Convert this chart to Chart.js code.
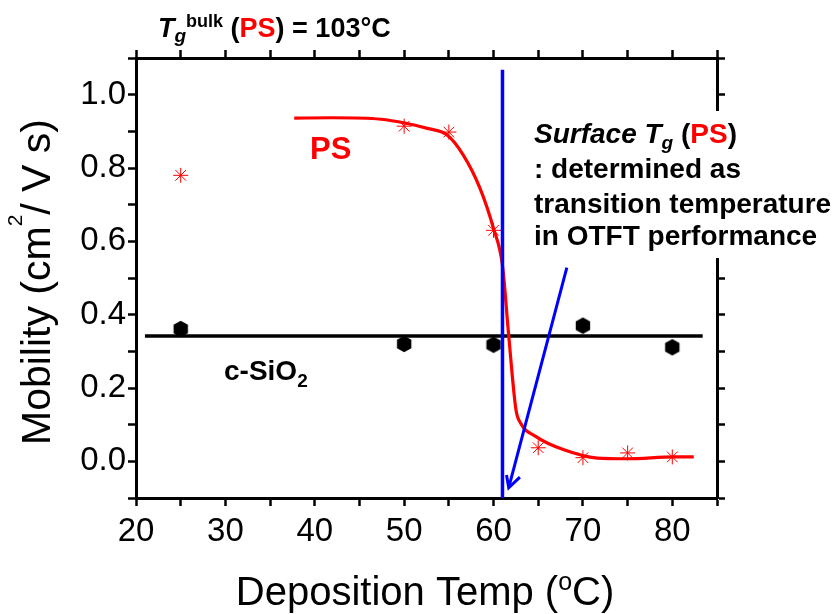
<!DOCTYPE html>
<html><head><meta charset="utf-8">
<script src="https://cdn.jsdelivr.net/npm/chart.js@4"></script>
<style>html,body{margin:0;padding:0;background:#fff}#wrap{width:840px;height:614px;position:relative}</style>
</head><body><div id="wrap"><canvas id="c"></canvas></div>
<script>
const FONT = '"Liberation Sans", Arial, Helvetica, sans-serif';

// ---- data ----
const psTemp = [25, 50, 55, 60, 65, 70, 75, 80];
const psMobility = [0.78, 0.914, 0.898, 0.63, 0.037, 0.01, 0.023, 0.012];
const sio2Temp = [25, 50, 60, 70, 80];
const sio2Mobility = [0.361, 0.32, 0.318, 0.37, 0.311];
const psFitTemp = [37.7, 42, 47.4, 50.2, 52.6, 54.8, 56.6, 58.5, 60.0, 61.0, 61.7, 62.5, 63.0, 64.7, 67.8, 71.6, 75, 80.2, 82.4];
const psFitMobility = [0.936, 0.937, 0.933, 0.922, 0.908, 0.890, 0.836, 0.744, 0.635, 0.534, 0.342, 0.142, 0.105, 0.068, 0.032, 0.009, 0.007, 0.012, 0.012];
const sio2LineTemp = [21.0, 83.4];
const sio2LineMobility = [0.342, 0.342];
const surfaceTgTemp = [61.0, 61.0];
const surfaceTgMobility = [-0.1, 1.068];
const arrowTemp = [68.2, 61.7];
const arrowMobility = [0.528, -0.072];
const arrowHeadTemp = [61.45, 61.7, 62.95];
const arrowHeadMobility = [-0.037, -0.072, -0.043];
const xTickLabels = ['20', '30', '40', '50', '60', '70', '80'];
const yTickLabels = ['0.0', '0.2', '0.4', '0.6', '0.8', '1.0'];

const pts = (xs, ys) => xs.map((x, i) => ({x: x, y: ys[i]}));

// hexagon marker
const hex = document.createElement('canvas');
hex.width = 18; hex.height = 18;
(function () {
  const g = hex.getContext('2d');
  g.beginPath();
  for (let i = 0; i < 6; i++) {
    const a = -Math.PI / 2 + i * Math.PI / 3;
    const px = 9 + 8.3 * Math.cos(a), py = 9 + 8.3 * Math.sin(a);
    if (i === 0) g.moveTo(px, py); else g.lineTo(px, py);
  }
  g.closePath(); g.fillStyle = '#000'; g.fill();
})();

function rich(ctx, x, y, segs, align) {
  let w = 0;
  segs.forEach(s => { ctx.font = s.f; s.w = ctx.measureText(s.t).width; w += s.w; });
  let cx = align === 'center' ? x - w / 2 : x;
  ctx.textAlign = 'left';
  ctx.textBaseline = 'alphabetic';
  segs.forEach(s => {
    ctx.font = s.f; ctx.fillStyle = s.c || '#000';
    ctx.fillText(s.t, cx, y + (s.dy || 0));
    cx += s.w;
  });
}

const textPlugin = {
  id: 'texts',
  afterDraw(chart) {
    const ctx = chart.ctx;
    ctx.save();
    const B = (n) => 'bold ' + n + 'px ' + FONT;
    const BI = (n) => 'italic bold ' + n + 'px ' + FONT;
    const R = (n) => n + 'px ' + FONT;
    // top title
    rich(ctx, 158, 37, [
      {t: 'T', f: BI(27)},
      {t: 'g', f: BI(19), dy: 5},
      {t: 'bulk', f: B(18), dy: -10},
      {t: ' (', f: B(27)},
      {t: 'PS', f: B(27), c: '#ff0000'},
      {t: ') = 103°C', f: B(27)}
    ]);
    // PS label
    rich(ctx, 310, 159, [{t: 'PS', f: B(31), c: '#ff0000'}]);
    // c-SiO2 label
    rich(ctx, 224, 380, [{t: 'c-SiO', f: B(28)}, {t: '2', f: B(19), dy: 7}]);
    // surface Tg box
    ctx.fillStyle = '#fff';
    ctx.fillRect(528, 111, 312, 147);
    rich(ctx, 534, 143, [
      {t: 'Surface T', f: BI(28)},
      {t: 'g', f: BI(19), dy: 6},
      {t: ' (', f: B(28)},
      {t: 'PS', f: B(28), c: '#ff0000'},
      {t: ')', f: B(28)}
    ]);
    rich(ctx, 534, 178, [{t: ': determined as', f: B(28)}]);
    rich(ctx, 534, 213, [{t: 'transition temperature', f: B(28)}]);
    rich(ctx, 534, 245, [{t: 'in OTFT performance', f: B(28)}]);
    // x axis title
    rich(ctx, 425, 605, [
      {t: 'Deposition Temp (', f: R(40)},
      {t: 'o', f: R(25), dy: -15},
      {t: 'C)', f: R(40)}
    ], 'center');
    // y axis title
    ctx.translate(50, 282);
    ctx.rotate(-Math.PI / 2);
    rich(ctx, 0, 0, [
      {t: 'Mobility (cm', f: R(41)},
      {t: '2', f: R(21), dy: -28},
      {t: '/ V s)', f: R(41)}
    ], 'center');
    ctx.restore();
  }
};

const gridOpts = {display: true, drawOnChartArea: false, drawTicks: true, tickLength: 8, tickColor: '#000', tickWidth: 2.5};
const borderOpts = {display: true, color: '#000', width: 3};

new Chart(document.getElementById('c'), {
  type: 'scatter',
  data: {
    datasets: [
      {type: 'line', data: pts(arrowHeadTemp, arrowHeadMobility), borderColor: '#0000ff', borderWidth: 3, pointRadius: 0, fill: false, tension: 0},
      {type: 'line', data: pts(arrowTemp, arrowMobility), borderColor: '#0000ff', borderWidth: 3, pointRadius: 0, fill: false, tension: 0},
      {type: 'line', data: pts(surfaceTgTemp, surfaceTgMobility), borderColor: '#0000ff', borderWidth: 3.5, pointRadius: 0, fill: false, tension: 0},
      {data: pts(psTemp, psMobility), pointStyle: 'star', pointRadius: 7.5, borderColor: '#ff0000', backgroundColor: '#ff0000', borderWidth: 1},
      {type: 'line', data: pts(psFitTemp, psFitMobility), borderColor: '#ff0000', borderWidth: 3.2, pointRadius: 0, fill: false, cubicInterpolationMode: 'monotone'},
      {data: pts(sio2Temp, sio2Mobility), pointStyle: hex, pointRadius: 9},
      {type: 'line', data: pts(sio2LineTemp, sio2LineMobility), borderColor: '#000', borderWidth: 3.5, pointRadius: 0, fill: false, tension: 0}
    ]
  },
  options: {
    responsive: true, maintainAspectRatio: false, animation: false,
    layout: {padding: 0},
    plugins: {legend: {display: false}, tooltip: {enabled: false}, title: {display: false}},
    scales: {
      x: {
        type: 'linear', position: 'bottom', min: 20, max: 85,
        ticks: {stepSize: 5, autoSkip: false, maxRotation: 0, padding: 6, color: '#000', font: {family: FONT, size: 33},
          callback: v => xTickLabels.includes(String(v)) ? String(v) : ''},
        grid: gridOpts, border: borderOpts,
        afterFit: s => { s.height = 116; }
      },
      xTop: {
        type: 'linear', position: 'top', min: 20, max: 85,
        ticks: {display: false, stepSize: 5, autoSkip: false},
        grid: gridOpts, border: borderOpts,
        afterFit: s => { s.height = 58; }
      },
      y: {
        type: 'linear', position: 'left', min: -0.1, max: 1.1,
        ticks: {stepSize: 0.1, maxTicksLimit: 30, autoSkip: false, padding: 2, color: '#000', font: {family: FONT, size: 33},
          callback: v => { const s = Number(v).toFixed(1); return yTickLabels.includes(s) ? s : ''; }},
        grid: gridOpts, border: borderOpts,
        afterFit: s => { s.width = 136; }
      },
      yRight: {
        type: 'linear', position: 'right', min: -0.1, max: 1.1,
        ticks: {display: false, stepSize: 0.1, maxTicksLimit: 30, autoSkip: false},
        grid: gridOpts, border: borderOpts,
        afterFit: s => { s.width = 123; }
      }
    }
  },
  plugins: [textPlugin]
});
</script>
</body></html>
